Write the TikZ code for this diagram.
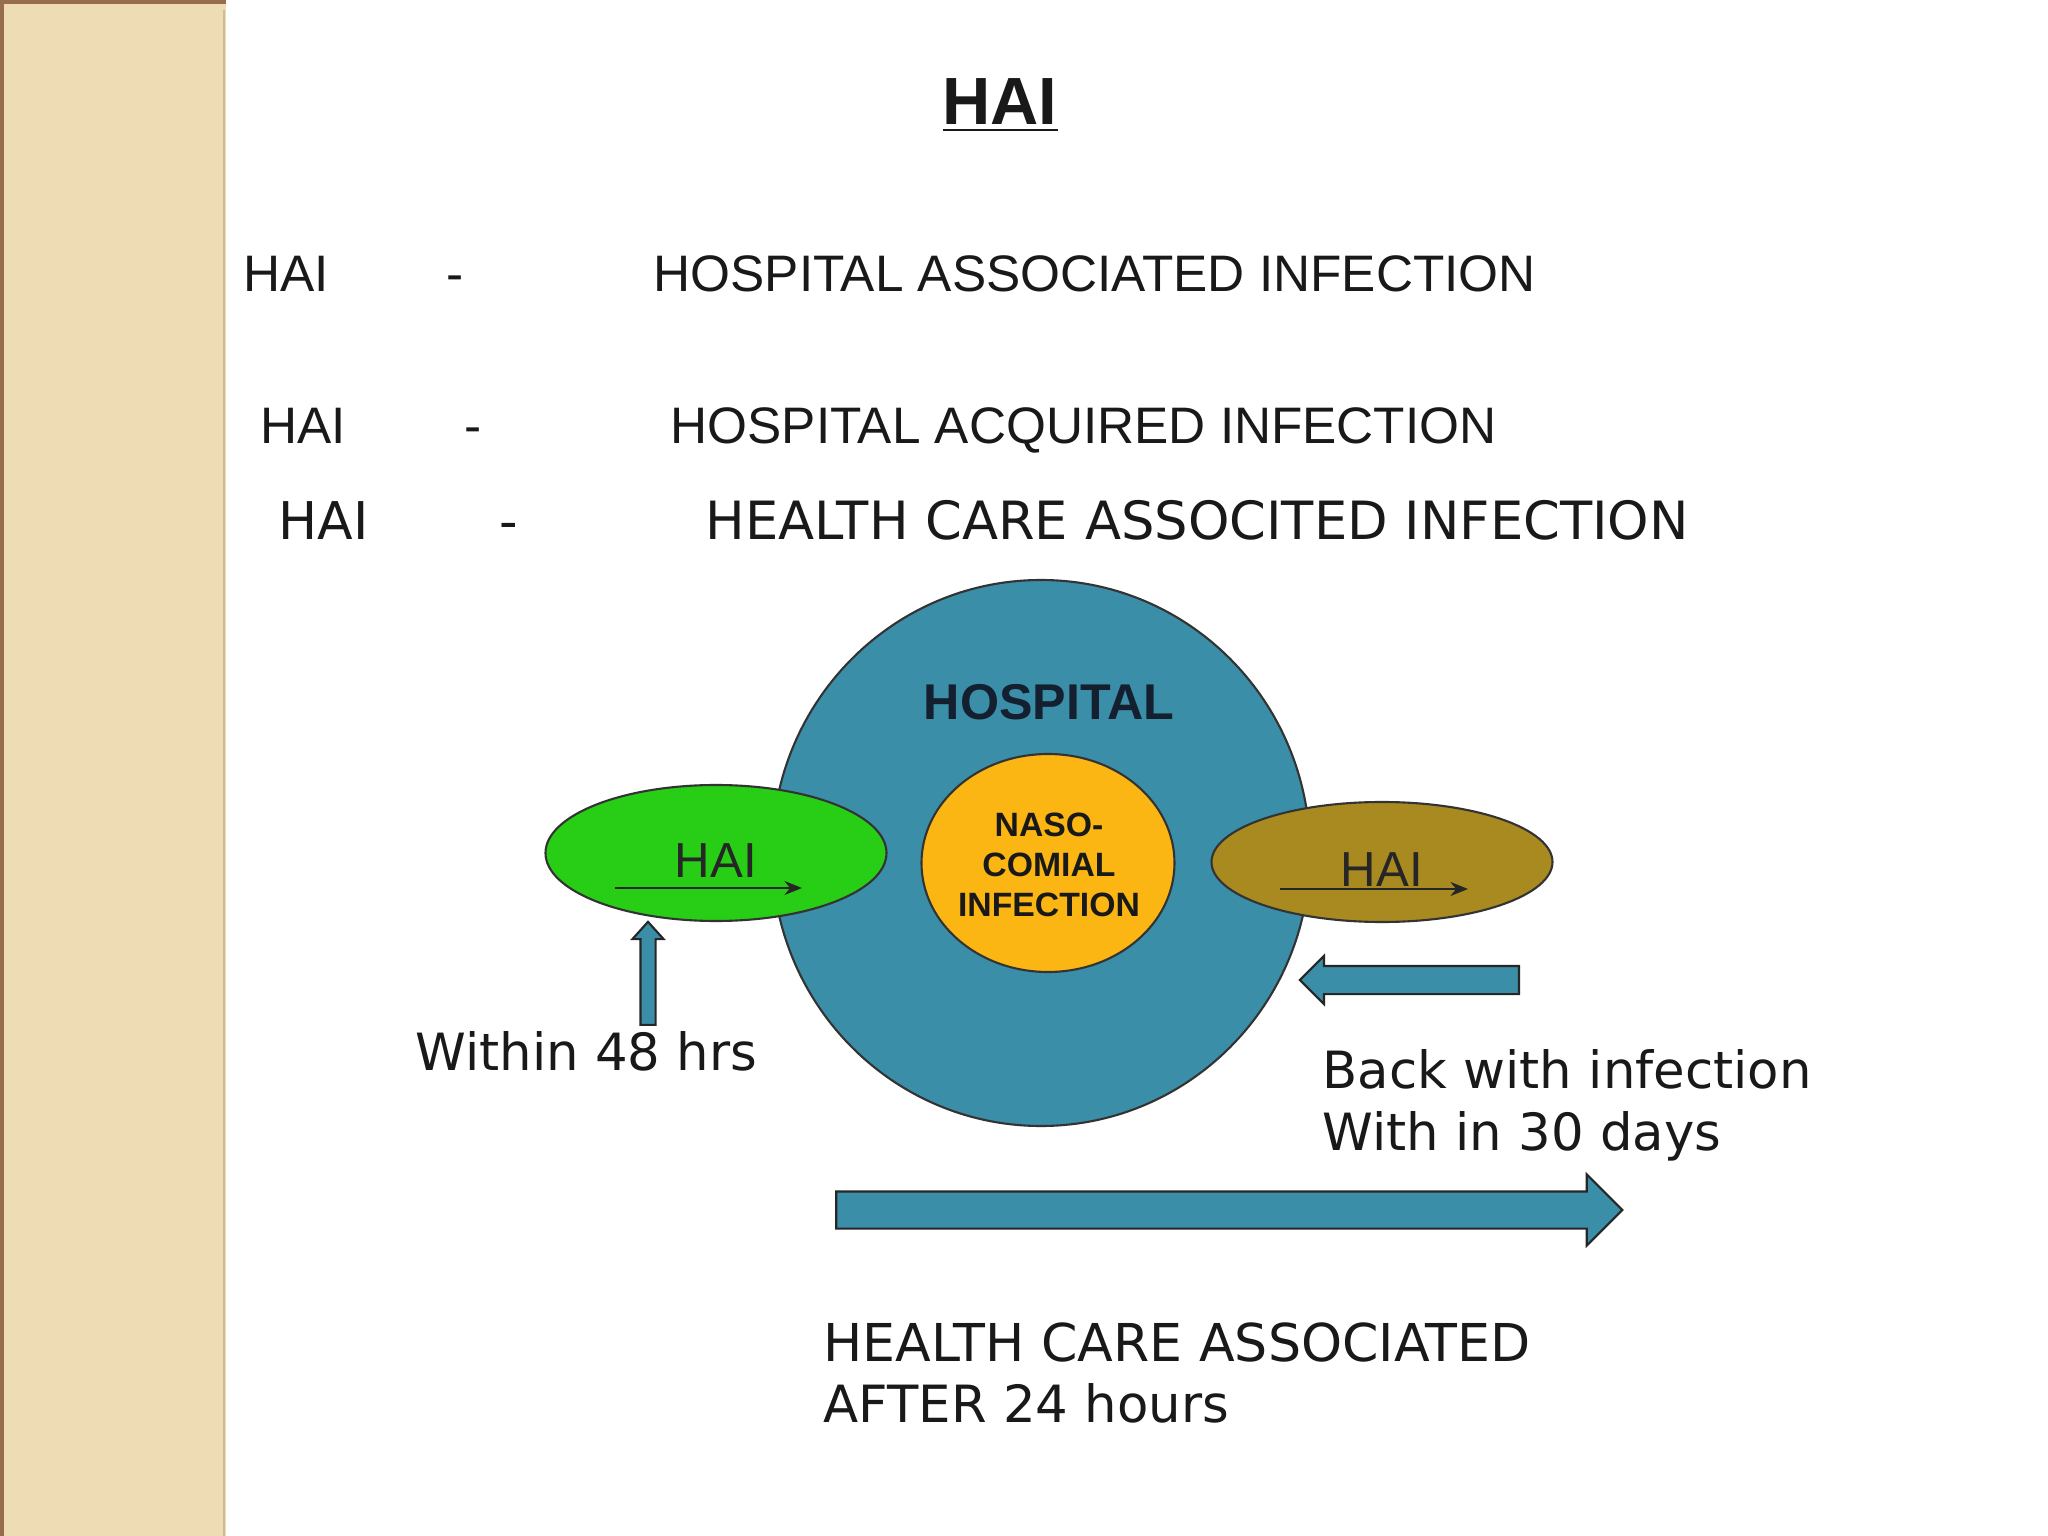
\documentclass[tikz,border=0pt]{standalone}
\usepackage{fontspec}
\setmainfont{Liberation Sans}
\newfontfamily\verdfont{DejaVu Sans}
\usetikzlibrary{shapes.geometric,shapes.arrows,arrows.meta}
\definecolor{bandtan}{RGB}{238,221,180}
\definecolor{bandedge}{RGB}{150,110,75}
\definecolor{hospblue}{RGB}{58,142,168}
\definecolor{nosoorange}{RGB}{251,182,20}
\definecolor{haigreen}{RGB}{40,206,22}
\definecolor{haibrown}{RGB}{168,138,32}
\definecolor{navy}{RGB}{20,32,48}
\begin{document}
\begin{tikzpicture}[
    blob/.style={ellipse, draw=black!80, line width=0.6pt, inner sep=0},
    txt/.style={inner sep=0, anchor=base west, text=black!90},
    deftxt/.style={txt, font=\fontsize{14.6}{17}\selectfont},
    verdtxt/.style={txt, font=\verdfont\fontsize{14.6}{17}\selectfont},
    blockarrow/.style={single arrow, draw=black!85, fill=hospblue, line width=0.6pt, single arrow tip angle=90},
    smallarrow/.style={-{Stealth[length=5pt,width=4pt]}, line width=0.6pt, black!85}
]
    \useasboundingbox (0,0) rectangle (20.48,-15.36);
    \fill[white] (0,0) rectangle (20.48,-15.36);
    \fill[bandtan] (0,0) rectangle (2.26,-15.36);
    \draw[bandedge, line width=1pt] (0.02,-15.36) -- (0.02,-0.02) -- (2.26,-0.02);
    \draw[bandtan!85!black, line width=0.8pt] (2.24,-0.1) -- (2.24,-15.36);

    \node[txt, anchor=base, font=\bfseries\fontsize{19}{23}\selectfont] (title) at (10.0,-1.25) {\underline{HAI}};

    \node[deftxt] (abbr1) at (2.43,-2.92) {HAI};
    \node[deftxt, anchor=base] (dash1) at (4.55,-2.92) {-};
    \node[deftxt] (def1) at (6.53,-2.92) {HOSPITAL ASSOCIATED INFECTION};
    \node[deftxt] (abbr2) at (2.60,-4.44) {HAI};
    \node[deftxt, anchor=base] (dash2) at (4.73,-4.44) {-};
    \node[deftxt] (def2) at (6.70,-4.44) {HOSPITAL ACQUIRED INFECTION};
    \node[verdtxt, font=\verdfont\fontsize{14.8}{17}\selectfont] (abbr3) at (2.78,-5.40) {HAI};
    \node[verdtxt, anchor=base] (dash3) at (5.09,-5.40) {-};
    \node[verdtxt, font=\verdfont\fontsize{15.0}{17}\selectfont] (def3) at (7.05,-5.40) {HEALTH CARE ASSOCITED INFECTION};

    \node[blob, fill=hospblue, minimum width=5.38cm, minimum height=5.46cm] (hospital) at (10.41,-8.53) {};
    \node[blob, fill=nosoorange, minimum width=2.53cm, minimum height=2.18cm] (noso) at (10.48,-8.63) {};
    \node[blob, fill=haigreen, minimum width=3.41cm, minimum height=1.36cm] (haiin) at (7.16,-8.53) {};
    \node[blob, fill=haibrown, minimum width=3.41cm, minimum height=1.20cm] (haiout) at (13.82,-8.62) {};

    \node[anchor=base, inner sep=0, text=navy, font=\bfseries\fontsize{14.3}{17}\selectfont] (hosplabel) at (10.49,-7.20) {HOSPITAL};
    \node[align=center, inner sep=0, text=black!90, font=\bfseries\fontsize{9.6}{11.4}\selectfont] (nosolabel) at (10.49,-8.65) {NASO-\\COMIAL\\INFECTION};

    \node[anchor=base, inner sep=0, text=black!85, font=\fontsize{14}{17}\selectfont] (haiinlabel) at (7.16,-8.77) {HAI};
    \node[anchor=base, inner sep=0, text=black!85, font=\fontsize{14}{17}\selectfont] (haioutlabel) at (13.82,-8.87) {HAI};
    \draw[smallarrow] ([xshift=-1.01cm,yshift=-0.35cm]haiin.center) -- ++(1.87,0);
    \draw[smallarrow] ([xshift=-1.02cm,yshift=-0.27cm]haiout.center) -- ++(1.88,0);

    \node[blockarrow, shape border rotate=90, minimum height=1.03cm, inner sep=0.065cm, single arrow head extend=0.08cm, single arrow tip angle=84] (uparrow) at (6.48,-9.775) {};
    \node[blockarrow, shape border rotate=180, minimum height=2.19cm, inner sep=0.13cm, single arrow head extend=0.10cm] (backarrow) at (14.165,-9.80) {};
    \node[blockarrow, minimum height=7.86cm, inner sep=0.175cm, single arrow head extend=0.17cm] (timearrow) at (12.20,-12.10) {};

    \node[verdtxt] (within) at (4.15,-10.70) {Within 48 hrs};
    \node[verdtxt] (back) at (13.22,-10.88) {Back with infection};
    \node[verdtxt] (days) at (13.22,-11.50) {With in 30 days};
    \node[verdtxt, font=\verdfont\fontsize{14.85}{17}\selectfont] (hca) at (8.23,-13.61) {HEALTH CARE ASSOCIATED};
    \node[verdtxt] (after) at (8.23,-14.22) {AFTER 24 hours};
\end{tikzpicture}
\end{document}
